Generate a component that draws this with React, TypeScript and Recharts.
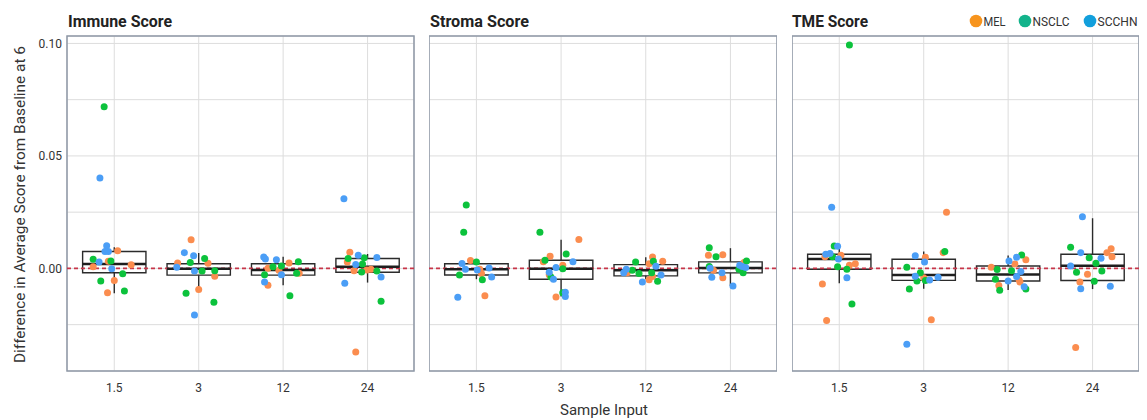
import React from "react";
import {
  ComposedChart,
  Scatter,
  XAxis,
  YAxis,
  CartesianGrid,
  ReferenceLine,
  ReferenceArea,
} from "recharts";

const inputs = ["1.5", "3", "12", "24"];
const panelTitles = ["Immune Score", "Stroma Score", "TME Score"];
const cohorts = ["MEL", "NSCLC", "SCCHN"];
const pointColors = ["#fb8d4f", "#0cc23c", "#4b9ef6"];
const legendColors = ["#f7941d", "#13b38b", "#129fdc"];
const yTicks = [-0.025, 0, 0.025, 0.05, 0.075, 0.1];
const yLabelled = [0, 0.05, 0.1];
const xTicks = [1, 2, 3, 4];
const xDomain = [0.44, 4.55];
const yDomain = [-0.0456, 0.1033];

// points: [sample input group, jitter, value]
const immuneMel = [
  [1, 0.04, 0.0078], [1, -0.07, 0.0032], [1, -0.25, 0.0007], [1, 0.2, 0.0016], [1, 0.0, -0.0054], [1, -0.08, -0.0108],
  [2, -0.09, 0.0127], [2, -0.25, 0.0024], [2, 0.11, 0.0023], [2, 0.19, -0.0035], [2, 0.0, -0.0094],
  [3, 0.07, 0.0024], [3, -0.18, 0.0001], [3, -0.05, -0.0008], [3, 0.19, -0.0021], [3, -0.18, -0.0075],
  [4, -0.21, 0.0072], [4, -0.24, 0.0029], [4, -0.16, -0.001], [4, -0.01, -0.0007], [4, 0.04, -0.0004], [4, -0.14, -0.0372],
];
const immuneNsclc = [
  [1, -0.12, 0.0718], [1, -0.25, 0.0041], [1, -0.04, 0.0033], [1, 0.1, -0.0024], [1, -0.16, -0.0056], [1, 0.12, -0.01],
  [2, 0.07, 0.0044], [2, -0.1, 0.0026], [2, 0.04, -0.0012], [2, 0.19, -0.001], [2, -0.15, -0.011], [2, 0.18, -0.015],
  [3, 0.18, 0.003], [3, -0.12, 0.0007], [3, -0.02, 0.0011], [3, -0.22, -0.0028], [3, 0.16, -0.0021], [3, 0.08, -0.0121],
  [4, -0.23, 0.0044], [4, -0.04, 0.0047], [4, -0.06, 0.002], [4, -0.07, -0.0016], [4, 0.11, -0.0012], [4, 0.16, -0.0146],
];
const immuneScchn = [
  [1, -0.17, 0.0402], [1, -0.09, 0.0101], [1, -0.11, 0.0075], [1, -0.07, 0.0075], [1, -0.18, 0.0029], [1, -0.03, -0.0001],
  [2, -0.17, 0.007], [2, -0.06, 0.0056], [2, -0.26, 0.0005], [2, -0.05, -0.0012], [2, -0.05, -0.0207],
  [3, -0.23, 0.0051], [3, -0.21, 0.0042], [3, -0.08, 0.0039], [3, -0.02, -0.0028], [3, -0.22, -0.006],
  [4, -0.28, 0.031], [4, -0.11, 0.0059], [4, 0.11, 0.0048], [4, -0.14, 0.0017], [4, 0.16, -0.0038], [4, -0.27, -0.0066],
];

const stromaMel = [
  [1, -0.07, 0.0035], [1, 0.04, -0.0004], [1, 0.06, -0.0023], [1, 0.1, -0.0121],
  [2, 0.21, 0.0128], [2, -0.13, 0.0054], [2, -0.21, 0.003], [2, 0.02, 0.0014], [2, -0.14, -0.0028], [2, -0.06, -0.0127],
  [3, 0.08, 0.0051], [3, 0.2, 0.0032], [3, 0.04, 0.0021], [3, -0.22, -0.0019], [3, 0.08, -0.0036], [3, 0.04, -0.005],
  [4, -0.26, 0.0059], [4, -0.09, 0.0061], [4, 0.16, 0.0026], [4, -0.2, -0.0008], [4, -0.09, -0.0041],
];
const stromaNsclc = [
  [1, -0.12, 0.0282], [1, -0.15, 0.0161], [1, 0.0, 0.0028], [1, -0.2, -0.0029], [1, 0.07, -0.005],
  [2, -0.25, 0.0161], [2, 0.06, 0.0064], [2, -0.19, 0.0036], [2, 0.02, -0.0002], [2, -0.12, -0.0038], [2, 0.02, -0.0108],
  [3, -0.12, 0.0028], [3, 0.09, 0.0032], [3, -0.16, -0.0008], [3, -0.08, -0.0023], [3, 0.07, -0.0019], [3, 0.14, -0.0057],
  [4, -0.25, 0.0092], [4, -0.17, 0.0052], [4, 0.19, 0.0033], [4, -0.25, 0.0008], [4, 0.1, -0.0004], [4, 0.15, -0.0019],
];
const stromaScchn = [
  [1, -0.17, 0.0022], [1, -0.13, -0.0004], [1, 0.01, -0.0007], [1, 0.15, 0.0002], [1, 0.18, -0.0038], [1, -0.22, -0.0128],
  [2, 0.14, 0.003], [2, -0.06, 0.0004], [2, -0.14, -0.0017], [2, -0.09, -0.0048], [2, 0.05, -0.0106], [2, 0.05, -0.0125],
  [3, 0.12, 0.001], [3, -0.23, -0.0004], [3, -0.26, -0.0019], [3, 0.18, -0.0029], [3, -0.04, -0.006],
  [4, 0.11, 0.0014], [4, -0.24, 0.0001], [4, 0.14, 0.0008], [4, 0.18, 0.0004], [4, -0.1, -0.0019], [4, -0.22, -0.0039], [4, 0.03, -0.0078],
];

const tmeMel = [
  [1, -0.17, 0.0052], [1, 0.02, 0.0059], [1, 0.19, 0.0021], [1, 0.12, 0.0014], [1, -0.2, -0.0069], [1, -0.15, -0.0232],
  [2, 0.27, 0.025], [2, 0.02, 0.005], [2, 0.23, 0.007], [2, 0.0, -0.0042], [2, 0.09, -0.0228],
  [3, 0.21, 0.0039], [3, 0.08, 0.002], [3, -0.2, 0.0005], [3, 0.13, -0.0051], [3, 0.14, -0.006], [3, -0.11, -0.0076],
  [4, 0.22, 0.0087], [4, 0.17, 0.007], [4, 0.23, 0.0052], [4, -0.06, -0.0026], [4, -0.15, -0.006], [4, -0.2, -0.0352],
];
const tmeNsclc = [
  [1, 0.12, 0.0993], [1, -0.06, 0.01], [1, -0.08, 0.0052], [1, -0.02, 0.0007], [1, 0.09, -0.0004], [1, 0.15, -0.0158],
  [2, 0.25, 0.0075], [2, -0.2, 0.0005], [2, -0.04, -0.0019], [2, -0.08, -0.0056], [2, 0.02, -0.0054], [2, -0.17, -0.0091],
  [3, 0.16, 0.006], [3, -0.13, -0.0005], [3, 0.04, -0.001], [3, -0.15, -0.0048], [3, -0.1, -0.0097], [3, 0.21, -0.0091],
  [4, -0.26, 0.0094], [4, -0.04, 0.0047], [4, 0.04, 0.0023], [4, -0.19, -0.0017], [4, 0.11, -0.0012], [4, 0.02, -0.0057],
];
const tmeScchn = [
  [1, -0.09, 0.0272], [1, -0.02, 0.0099], [1, -0.16, 0.0063], [1, -0.11, 0.0066], [1, -0.01, 0.0042], [1, 0.09, -0.0041],
  [2, -0.1, 0.0056], [2, 0.01, 0.0028], [2, -0.1, -0.0035], [2, 0.17, -0.0039], [2, 0.07, -0.0051], [2, -0.2, -0.0337],
  [3, 0.1, 0.005], [3, 0.01, 0.0033], [3, 0.15, -0.0014], [3, 0.1, -0.0036], [3, 0.0, -0.0056], [3, 0.19, -0.0082],
  [4, -0.12, 0.023], [4, -0.14, 0.007], [4, 0.1, 0.0045], [4, -0.26, 0.0011], [4, 0.21, -0.0079], [4, -0.14, -0.009],
];

// boxes: [lower whisker, q1, median, q3, upper whisker] per sample input
const immuneBox = [
  [-0.011, -0.0019, 0.002, 0.0075, 0.0094],
  [-0.0092, -0.003, -0.0002, 0.0021, 0.0068],
  [-0.0075, -0.003, -0.0007, 0.0021, 0.0052],
  [-0.0063, -0.0017, 0.0007, 0.0044, 0.0064],
];
const stromaBox = [
  [-0.0048, -0.0029, -0.0004, 0.0021, 0.0035],
  [-0.0125, -0.0048, -0.0001, 0.0036, 0.0127],
  [-0.0048, -0.0033, -0.0008, 0.0017, 0.005],
  [-0.0078, -0.002, 0.0002, 0.0029, 0.009],
];
const tmeBox = [
  [-0.0066, -0.0004, 0.0042, 0.0063, 0.0094],
  [-0.009, -0.0053, -0.0029, 0.0041, 0.0075],
  [-0.0096, -0.0056, -0.0027, 0.0011, 0.0057],
  [-0.0092, -0.0054, 0.0012, 0.0063, 0.0223],
];

const panelBoxes = [immuneBox, stromaBox, tmeBox];
const panelPoints = [
  [immuneMel, immuneNsclc, immuneScchn],
  [stromaMel, stromaNsclc, stromaScchn],
  [tmeMel, tmeNsclc, tmeScchn],
];

const FONT = "Roboto, 'Noto Sans', sans-serif";
const BOX_HALF = 0.375; // ggplot default box width 0.75
const BOX_STROKE = "#2b2b2b";

const toPoints = (pts: number[][]) =>
  pts.map(([g, dx, v]) => ({ x: g + dx, y: v }));

const makeDot = (color: string) => (p: any) =>
  <circle cx={p.cx} cy={p.cy} r={3.5} fill={color} />;

// box + whiskers drawn through the chart's own scales
const renderBoxes = (box: number[][]) =>
  box.flatMap(([lo, q1, med, q3, hi], i) => {
    const g = xTicks[i];
    return [
      <ReferenceLine
        key={`wu-${i}`}
        segment={[{ x: g, y: q3 }, { x: g, y: hi }]}
        stroke={BOX_STROKE}
        strokeWidth={1.4}
      />,
      <ReferenceLine
        key={`wl-${i}`}
        segment={[{ x: g, y: lo }, { x: g, y: q1 }]}
        stroke={BOX_STROKE}
        strokeWidth={1.4}
      />,
      <ReferenceArea
        key={`box-${i}`}
        x1={g - BOX_HALF}
        x2={g + BOX_HALF}
        y1={q1}
        y2={q3}
        fill="none"
        fillOpacity={0}
        stroke={BOX_STROKE}
        strokeWidth={1.4}
      />,
      <ReferenceLine
        key={`med-${i}`}
        segment={[{ x: g - BOX_HALF, y: med }, { x: g + BOX_HALF, y: med }]}
        stroke="#1e1e1e"
        strokeWidth={2.5}
      />,
    ];
  });

interface PanelProps {
  index: number;
  left: number;
  width: number;
  showY: boolean;
}

function Panel({ index, left, width, showY }: PanelProps) {
  return (
    <div style={{ position: "absolute", left, top: 0 }}>
      <ComposedChart
        width={width}
        height={420}
        margin={{ top: 36, right: showY ? 6 : 0, bottom: 29, left: 0 }}
      >
        <CartesianGrid stroke="#dddddd" strokeWidth={1} />
        <XAxis
          dataKey="x"
          type="number"
          domain={xDomain}
          allowDataOverflow
          ticks={xTicks}
          tickFormatter={(v: number) => inputs[v - 1]}
          height={20}
          tickSize={0}
          tickMargin={12}
          axisLine={false}
          tick={{ fontSize: 12, fill: "#333", fontFamily: FONT }}
        />
        <YAxis
          dataKey="y"
          type="number"
          domain={yDomain}
          allowDataOverflow
          ticks={yTicks}
          hide={!showY}
          width={67}
          tickSize={0}
          tickMargin={5}
          axisLine={false}
          tickFormatter={(v: number) =>
            yLabelled.some((t) => Math.abs(t - v) < 1e-9) ? v.toFixed(2) : ""
          }
          tick={{ fontSize: 12, fill: "#333", fontFamily: FONT }}
        />
        <ReferenceLine y={0} stroke="#c73549" strokeWidth={1.6} strokeDasharray="4 3" />
        {renderBoxes(panelBoxes[index])}
        {panelPoints[index].map((pts, i) => (
          <Scatter
            key={cohorts[i]}
            name={cohorts[i]}
            data={toPoints(pts)}
            fill={pointColors[i]}
            shape={makeDot(pointColors[i])}
            isAnimationActive={false}
          />
        ))}
        <ReferenceArea
          x1={xDomain[0]}
          x2={xDomain[1]}
          y1={yDomain[0]}
          y2={yDomain[1]}
          fill="none"
          fillOpacity={0}
          stroke="#8e98a7"
          strokeWidth={1.5}
          ifOverflow="visible"
        />
      </ComposedChart>
    </div>
  );
}

const panelLeft = [0, 429, 792];
const panelWidth = [420, 348, 347];
const titleX = [68, 430, 792];
const titleLen = [104, 99, 76];
const legendCircleX = [976, 1025, 1090];
const legendLen = [22, 37, 40];

export default function App() {
  return (
    <div style={{ position: "absolute", left: 0, top: 0, width: 1147, height: 420, background: "#fff" }}>
      {panelTitles.map((t, i) => (
        <Panel key={t} index={i} left={panelLeft[i]} width={panelWidth[i]} showY={i === 0} />
      ))}
      <svg
        width={1147}
        height={420}
        style={{ position: "absolute", left: 0, top: 0, pointerEvents: "none" }}
        fontFamily={FONT}
      >
        {panelTitles.map((t, i) => (
          <text
            key={t}
            x={titleX[i]}
            y={27}
            fontSize={16.5}
            fontWeight={700}
            fill="#222"
            textLength={titleLen[i]}
            lengthAdjust="spacingAndGlyphs"
          >
            {t}
          </text>
        ))}
        {cohorts.map((c, i) => (
          <g key={c}>
            <circle cx={legendCircleX[i]} cy={21} r={6.3} fill={legendColors[i]} />
            <text
              x={legendCircleX[i] + 7.5}
              y={25.5}
              fontSize={13.5}
              fill="#333"
              textLength={legendLen[i]}
              lengthAdjust="spacingAndGlyphs"
            >
              {c}
            </text>
          </g>
        ))}
        <text
          x={25}
          y={204.5}
          transform="rotate(-90 25 204.5)"
          textAnchor="middle"
          fontSize={15.5}
          fill="#333"
          textLength={317}
          lengthAdjust="spacingAndGlyphs"
        >
          Difference in Average Score from Baseline at 6
        </text>
        <text
          x={604}
          y={415}
          textAnchor="middle"
          fontSize={15.5}
          fill="#333"
          textLength={88}
          lengthAdjust="spacingAndGlyphs"
        >
          Sample Input
        </text>
      </svg>
    </div>
  );
}
